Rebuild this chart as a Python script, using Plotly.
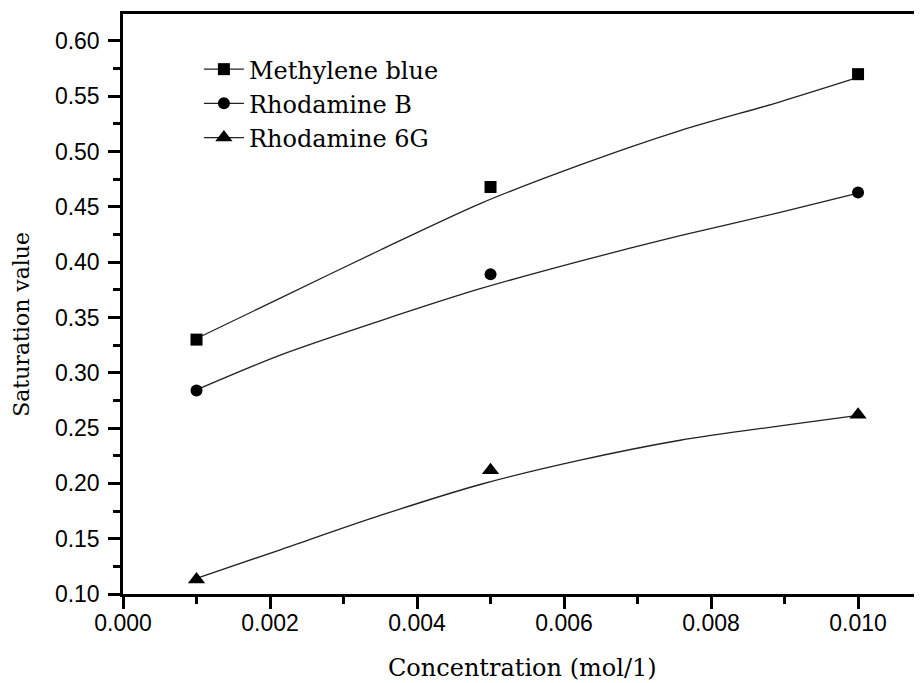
import plotly.graph_objects as go

# Measured data points
conc = [0.001, 0.005, 0.010]
mb_vals = [0.330, 0.468, 0.570]
rb_vals = [0.284, 0.389, 0.463]
r6g_vals = [0.113, 0.212, 0.262]

# Fitted curves
fit_x = [0.001, 0.00214, 0.0035, 0.00486, 0.00622, 0.00758, 0.00894, 0.010]
mb_fit = [0.331, 0.3675, 0.411, 0.453, 0.488, 0.519, 0.545, 0.567]
rb_fit = [0.2846, 0.316, 0.347, 0.376, 0.401, 0.424, 0.445, 0.4625]
r6g_fit = [0.1142, 0.140, 0.171, 0.199, 0.221, 0.239, 0.252, 0.2615]

names = ["Methylene blue", "Rhodamine B", "Rhodamine 6G"]
symbols = ["square", "circle", "triangle-up"]
sizes = [12, 12, 15]

x_ticks = [0.000, 0.002, 0.004, 0.006, 0.008, 0.010]
y_ticks = [0.10, 0.15, 0.20, 0.25, 0.30, 0.35, 0.40, 0.45, 0.50, 0.55, 0.60]

serif = "DejaVu Serif"
sans = "Liberation Sans"

fig = go.Figure()
for name, sym, sz, vals, fit in zip(names, symbols, sizes,
                                     [mb_vals, rb_vals, r6g_vals],
                                     [mb_fit, rb_fit, r6g_fit]):
    fig.add_trace(go.Scatter(x=fit_x, y=fit, mode="lines",
                             line=dict(color="#222", width=1.3, shape="spline", smoothing=0.8),
                             showlegend=False, hoverinfo="skip"))
    fig.add_trace(go.Scatter(x=conc, y=vals, mode="markers",
                             marker=dict(symbol=sym, size=sz, color="black"),
                             showlegend=False))
    fig.add_trace(go.Scatter(x=[None], y=[None], mode="lines+markers", name=name,
                             line=dict(color="#222", width=1.3),
                             marker=dict(symbol=sym, size=sz, color="black")))

axis_common = dict(showline=True, linecolor="black", linewidth=2.5,
                   ticks="outside", ticklen=12, tickwidth=2.5, tickcolor="black",
                   showgrid=False, zeroline=False, automargin=False,
                   tickfont=dict(family=sans, size=23, color="black"))

# The page body adds an 8px offset, so the figure is shifted accordingly
fig.update_layout(
    width=914, height=675,
    margin=dict(l=115, r=0, t=6, b=89, autoexpand=False),
    paper_bgcolor="white", plot_bgcolor="white",
    showlegend=True,
    legend=dict(x=0.095, y=0.943, xanchor="left", yanchor="top",
                font=dict(family=serif, size=24, color="black"),
                bgcolor="rgba(0,0,0,0)", itemwidth=40, tracegroupgap=0),
    xaxis=dict(range=[0, 0.01087], tickvals=x_ticks, tickformat=".3f", mirror=True,
               minor=dict(dtick=0.001, ticks="outside", ticklen=7, tickwidth=2.5, tickcolor="black"),
               ticklabelstandoff=-5, **axis_common),
    yaxis=dict(range=[0.1, 0.6244], tickvals=y_ticks, tickformat=".2f", mirror=False,
               minor=dict(dtick=0.025, ticks="outside", ticklen=7, tickwidth=2.5, tickcolor="black"),
               ticklabelstandoff=4, **axis_common),
    annotations=[
        dict(text="Concentration (mol/1)", xref="paper", yref="paper",
             x=0.5, y=-0.128, xanchor="center", yanchor="middle", showarrow=False,
             font=dict(family=serif, size=24, color="black")),
        dict(text="Saturation value", xref="paper", yref="paper",
             x=-0.127, y=0.465, xanchor="center", yanchor="middle", showarrow=False,
             textangle=-90, font=dict(family=serif, size=22, color="black")),
    ],
)

fig.write_html("out.html")
